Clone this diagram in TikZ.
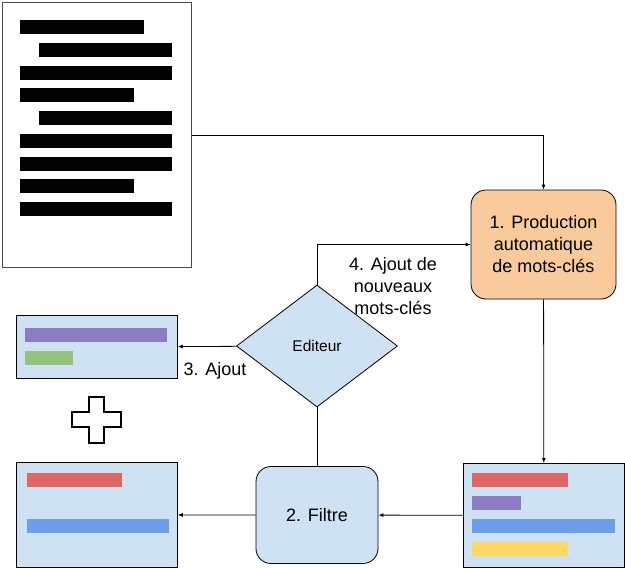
\documentclass[tikz,border=0pt]{standalone}
\usepackage{fontspec}
\setmainfont{Liberation Sans}
\usetikzlibrary{shapes.geometric, positioning, arrows.meta}
\definecolor{paleblue}{HTML}{CFE2F3}
\definecolor{peach}{HTML}{F9CB9C}
\definecolor{kwred}{HTML}{E06666}
\definecolor{kwpurple}{HTML}{8E7CC3}
\definecolor{kwblue}{HTML}{6D9EEB}
\definecolor{kwyellow}{HTML}{FFD966}
\definecolor{kwgreen}{HTML}{93C47D}
\begin{document}
\begin{tikzpicture}[x=1pt, y=-1pt, line width=0.8pt, >={Latex[length=5pt,width=4pt]}, font=\fontsize{18}{22}\selectfont]
        \tikzstyle{proc}=[draw, rectangle, rounded corners=15pt, align=center, inner sep=0pt];
        \tikzstyle{kwlist}=[draw, rectangle, fill=paleblue, anchor=north west, inner sep=0pt];
        \useasboundingbox (0,0) rectangle (625,568);

        \node[draw=black!70, line width=1pt, anchor=north west, minimum width=189pt, minimum height=265pt, inner sep=0pt] (doc) at (2,2) {};
        \foreach \xa/\xb [count=\i from 0] in {20/144, 39/172, 20/172, 20/134, 39/172, 20/172, 20/172, 20/134, 20/172}
          \fill (\xa, 20+\i*22.75) rectangle (\xb, 34+\i*22.75);

        \node[proc, fill=peach, minimum width=145pt, minimum height=109pt] (prod) at (543.5,244.5) {1. Production\\automatique\\de mots-clés};
        \node[draw, diamond, fill=paleblue, minimum width=161pt, minimum height=122pt, inner sep=0pt, font=\fontsize{15.5}{18}\selectfont] (editeur) at (317,346) {Editeur};
        \node[proc, fill=paleblue, minimum width=122pt, minimum height=97pt] (filtre) at (317,515) {2. Filtre};

        \node[kwlist, minimum width=161pt, minimum height=104pt] (kwauto) at (463,463) {};
        \fill[kwred] (472,473) rectangle (568,487);
        \fill[kwpurple] (472,496) rectangle (521,510);
        \fill[kwblue] (472,519) rectangle (615,533);
        \fill[kwyellow] (472,542) rectangle (568,556);

        \node[kwlist, minimum width=161pt, minimum height=105pt] (kwfinal) at (16,462) {};
        \fill[kwred] (27,473) rectangle (122,487);
        \fill[kwblue] (27,519) rectangle (169,533);

        \node[kwlist, minimum width=161pt, minimum height=63pt] (kwnew) at (16,315) {};
        \fill[kwpurple] (25,328) rectangle (167,342);
        \fill[kwgreen] (25,351) rectangle (73,365);

        % plus
        \draw[line width=1.5pt, fill=white] (89,397) -- (104,397) -- (104,412) -- (121,412) -- (121,427) -- (104,427)
          -- (104,443) -- (89,443) -- (89,427) -- (72,427) -- (72,412) -- (89,412) -- cycle;

        \draw[->] (doc.east) -| (prod.north);
        \draw[->] (editeur.north) |- (prod.west);
        \path[->]
        (prod) edge (kwauto)
        (kwauto) edge (filtre)
        (filtre) edge (kwfinal)
        (editeur) edge (kwnew);
        \draw (filtre) -- (editeur);

        \node at (215,371) {3. Ajout};
        \node[align=center] at (393,286) {4. Ajout de\\nouveaux\\mots-clés};
      \end{tikzpicture}
\end{document}
